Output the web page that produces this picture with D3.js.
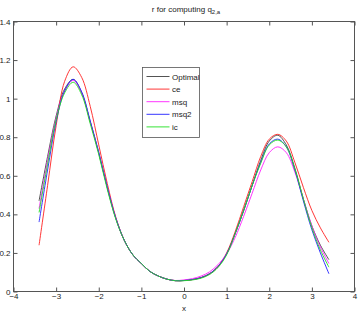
<!DOCTYPE html>
<html><head><meta charset="utf-8">
<script src="https://cdn.jsdelivr.net/npm/d3@7"></script>
<style>body{margin:0;background:#fff}svg{display:block}text{font-family:"Liberation Sans",Arial,sans-serif;fill:#222}</style>
</head><body>
<svg id="c" width="360" height="313"></svg>
<script>
const xs = [-3.4,-3.2,-3.0,-2.8,-2.6,-2.4,-2.2,-2.0,-1.8,-1.6,-1.4,-1.2,-1.0,-0.8,-0.6,-0.4,-0.2,0.0,0.2,0.4,0.6,0.8,1.0,1.2,1.4,1.6,1.8,2.0,2.2,2.4,2.6,2.8,3.0,3.2,3.4];
const optimal = [0.47,0.70,0.91,1.05,1.10,1.03,0.88,0.72,0.54,0.38,0.265,0.19,0.145,0.104,0.080,0.064,0.056,0.057,0.062,0.072,0.092,0.13,0.195,0.30,0.42,0.55,0.68,0.78,0.81,0.76,0.64,0.48,0.34,0.24,0.165];
const ce      = [0.24,0.55,0.86,1.09,1.165,1.11,0.96,0.76,0.56,0.385,0.265,0.19,0.145,0.104,0.080,0.064,0.056,0.057,0.062,0.072,0.092,0.13,0.20,0.31,0.44,0.57,0.70,0.79,0.815,0.78,0.67,0.54,0.42,0.33,0.255];
const msq     = [0.43,0.68,0.90,1.04,1.095,1.03,0.88,0.72,0.54,0.38,0.265,0.19,0.145,0.104,0.080,0.064,0.057,0.060,0.067,0.080,0.102,0.14,0.195,0.28,0.39,0.51,0.63,0.72,0.75,0.72,0.62,0.48,0.34,0.23,0.145];
const msq2    = [0.36,0.63,0.88,1.04,1.10,1.035,0.885,0.72,0.54,0.38,0.265,0.19,0.145,0.104,0.080,0.064,0.056,0.057,0.062,0.072,0.092,0.13,0.195,0.30,0.42,0.55,0.67,0.765,0.79,0.75,0.63,0.47,0.32,0.20,0.092];
const ic      = [0.41,0.66,0.89,1.03,1.085,1.02,0.87,0.71,0.53,0.375,0.265,0.19,0.145,0.104,0.080,0.064,0.056,0.056,0.060,0.069,0.088,0.125,0.19,0.30,0.42,0.55,0.665,0.76,0.785,0.75,0.635,0.48,0.33,0.215,0.126];
const seriesNames = ["Optimal","ce","msq","msq2","ic"];
const seriesColors = ["#404040","#ff2020","#ff20ff","#2020ff","#20e020"];
const xTicks = [-4,-3,-2,-1,0,1,2,3,4];
const yTicks = [0,0.2,0.4,0.6,0.8,1,1.2,1.4];

const svg = d3.select("#c");
const L=13.5, R=354.5, T=21.5, B=291.5;
const x = d3.scaleLinear().domain([-4,4]).range([L,R]);
const y = d3.scaleLinear().domain([0,1.4]).range([B,T]);
const minus = s => s.replace("-", "\u2212");

// frame
svg.append("rect").attr("x",L).attr("y",T).attr("width",R-L).attr("height",B-T)
  .attr("fill","none").attr("stroke","#555").attr("stroke-width",1);

// axes
const tk = 4;
svg.append("g").attr("transform",`translate(0,${B})`)
  .call(d3.axisBottom(x).tickValues(xTicks).tickSize(-tk).tickPadding(2).tickFormat(d=>minus(String(d))))
  .call(g=>g.select(".domain").remove());
svg.append("g").attr("transform",`translate(0,${T})`)
  .call(d3.axisTop(x).tickValues(xTicks).tickSize(-tk).tickFormat(""))
  .call(g=>g.select(".domain").remove());
svg.append("g").attr("transform",`translate(${L},0)`)
  .call(d3.axisLeft(y).tickValues(yTicks).tickSize(-tk).tickPadding(3).tickFormat(d=>String(d)))
  .call(g=>g.select(".domain").remove());
svg.append("g").attr("transform",`translate(${R},0)`)
  .call(d3.axisRight(y).tickValues(yTicks).tickSize(-tk).tickFormat(""))
  .call(g=>g.select(".domain").remove());
svg.selectAll(".tick line").attr("stroke","#555");
svg.selectAll(".tick text").attr("font-size",8).style("font-family","'Liberation Sans',Arial,sans-serif").attr("fill","#222");

// x label
svg.append("text").attr("x",(L+R)/2).attr("y",310.5).attr("text-anchor","middle").attr("font-size",8).text("x");

// title
const t = svg.append("text").attr("x",(L+R)/2+2).attr("y",12).attr("text-anchor","middle").attr("font-size",8);
t.append("tspan").text("r for computing q");
t.append("tspan").attr("font-size",6).attr("dy",2).text("2,a");

// curves
const line = d3.line().x((d,i)=>x(xs[i])).y(d=>y(d)).curve(d3.curveCatmullRom.alpha(0.5));
const all = [optimal, ce, msq, msq2, ic];
all.forEach((s,k)=>{
  svg.append("path").datum(s).attr("d",line).attr("fill","none")
    .attr("stroke",seriesColors[k]).attr("stroke-width",0.9);
});

// legend
const lg = svg.append("g");
lg.append("rect").attr("x",142.5).attr("y",67.5).attr("width",57).attr("height",70)
  .attr("fill","#fff").attr("stroke","#555").attr("stroke-width",0.8);
seriesNames.forEach((n,k)=>{
  const yy = 76.5 + k*12.6;
  lg.append("line").attr("x1",146.5).attr("x2",169.5).attr("y1",yy).attr("y2",yy)
    .attr("stroke",seriesColors[k]).attr("stroke-width",0.9);
  lg.append("text").attr("x",172).attr("y",yy+3).attr("font-size",8).text(n);
});
</script>
</body></html>
